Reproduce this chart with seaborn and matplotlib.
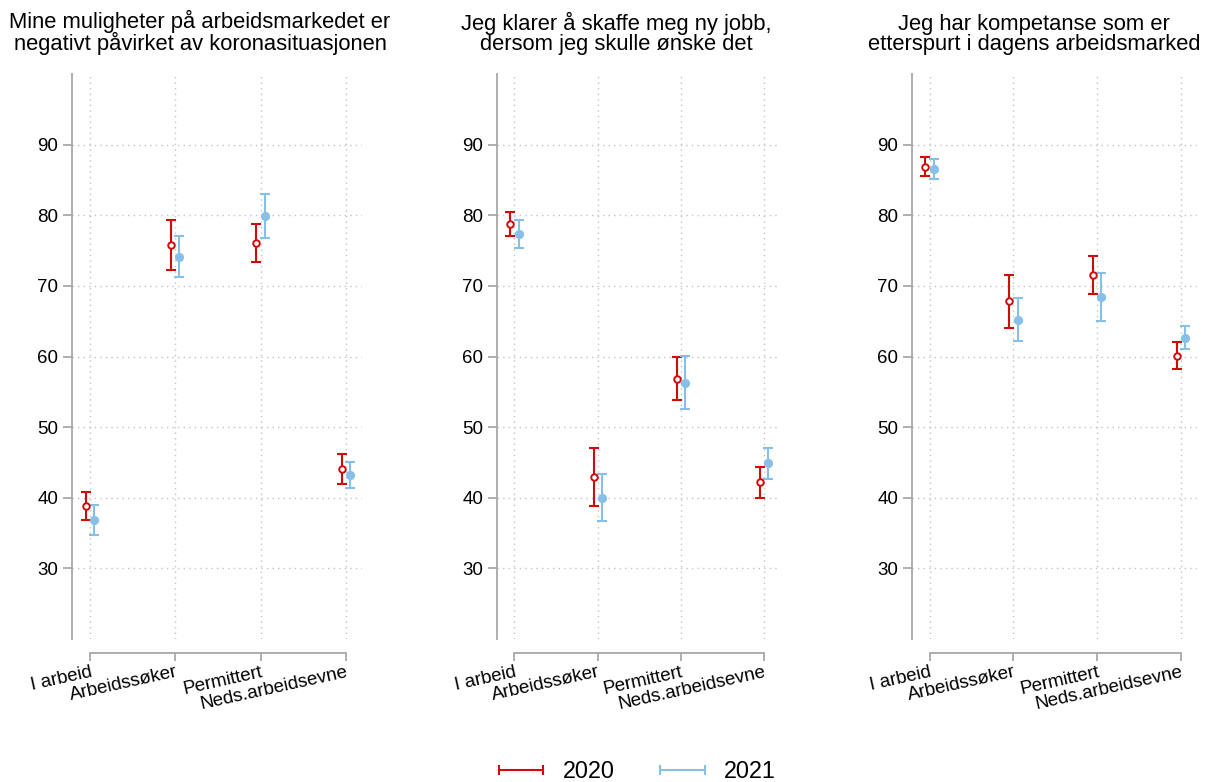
import matplotlib
matplotlib.use("Agg")
import matplotlib.pyplot as plt
from matplotlib.lines import Line2D
import seaborn as sns
import numpy as np

categories = ["I arbeid", "Arbeidssøker", "Permittert", "Neds.arbeidsevne"]
titles = [
    "Mine muligheter på arbeidsmarkedet er\nnegativt påvirket av koronasituasjonen",
    "Jeg klarer å skaffe meg ny jobb,\ndersom jeg skulle ønske det",
    "Jeg har kompetanse som er\netterspurt i dagens arbeidsmarked",
]
years = ["2020", "2021"]

# panel 1
p1_2020_mean = [38.9, 75.85, 76.1, 44.05]
p1_2020_lo = [36.9, 72.3, 73.4, 41.9]
p1_2020_hi = [40.8, 79.3, 78.7, 46.2]
p1_2021_mean = [36.8, 74.15, 79.9, 43.2]
p1_2021_lo = [34.7, 71.2, 76.8, 41.4]
p1_2021_hi = [38.96, 77.1, 83.0, 45.1]
# panel 2
p2_2020_mean = [78.8, 43.0, 56.8, 42.2]
p2_2020_lo = [77.1, 38.9, 53.8, 40.0]
p2_2020_hi = [80.5, 47.05, 59.9, 44.4]
p2_2021_mean = [77.35, 40.0, 56.3, 44.9]
p2_2021_lo = [75.4, 36.65, 52.5, 42.7]
p2_2021_hi = [79.3, 43.3, 60.1, 47.0]
# panel 3
p3_2020_mean = [86.8, 67.8, 71.5, 60.1]
p3_2020_lo = [85.5, 64.05, 68.8, 58.3]
p3_2020_hi = [88.2, 71.6, 74.2, 62.0]
p3_2021_mean = [86.55, 65.2, 68.45, 62.65]
p3_2021_lo = [85.2, 62.2, 65.0, 61.0]
p3_2021_hi = [87.9, 68.3, 71.8, 64.3]

yticks = [30, 40, 50, 60, 70, 80, 90]

panels = [
    ((p1_2020_mean, p1_2020_lo, p1_2020_hi), (p1_2021_mean, p1_2021_lo, p1_2021_hi)),
    ((p2_2020_mean, p2_2020_lo, p2_2020_hi), (p2_2021_mean, p2_2021_lo, p2_2021_hi)),
    ((p3_2020_mean, p3_2020_lo, p3_2020_hi), (p3_2021_mean, p3_2021_lo, p3_2021_hi)),
]

sns.set_style("white")
plt.rcParams['font.family'] = ['Liberation Sans', 'DejaVu Sans']
plt.rcParams['text.color'] = 'black'
plt.rcParams['xtick.labelcolor'] = 'black'
plt.rcParams['ytick.labelcolor'] = 'black'

RED = "#d10a0a"
BLUE = "#86c0e8"
SPINE = "#a8a8a8"
GRID = "#c4c4c4"

W, H = 1206, 782
fig = plt.figure(figsize=(W / 100, H / 100), dpi=100)

lefts = [72, 497, 912]
widths = [290, 283, 285]
top_px, bot_px = 74, 639
title_x = [200, 616, 1034]
ROT = 12.5

for i, (pan, left, width) in enumerate(zip(panels, lefts, widths)):
    ax = fig.add_axes([left / W, 1 - bot_px / H, width / W, (bot_px - top_px) / H])
    x = np.arange(len(categories))
    offsets = [-0.05, 0.05]
    styles = [
        dict(color=RED, face="white", size=22, lw=1.4),
        dict(color=BLUE, face=BLUE, size=44, lw=0),
    ]
    for (mean, lo, hi), off, st in zip(pan, offsets, styles):
        mean = np.array(mean); lo = np.array(lo); hi = np.array(hi)
        xx = x + off
        ax.errorbar(xx, mean, yerr=[mean - lo, hi - mean], fmt="none",
                    ecolor=st["color"], elinewidth=1.5, capsize=3.6, capthick=1.5, zorder=3)
        sns.scatterplot(x=xx, y=mean, ax=ax, marker="o", s=st["size"],
                        facecolor=st["face"], edgecolor=st["color"], linewidth=st["lw"],
                        zorder=4, legend=False)
    ax.set_xlabel(""); ax.set_ylabel("")
    ax.set_xlim(-0.21, 3.19)
    ax.set_ylim(20, 100)
    ax.grid(True, color=GRID, linestyle=(0, (1, 3)), linewidth=1.0)
    ax.set_axisbelow(True)
    for s in ["top", "right"]:
        ax.spines[s].set_visible(False)
    ax.spines["left"].set_color(SPINE)
    ax.spines["left"].set_linewidth(1.3)
    ax.spines["bottom"].set_color(SPINE)
    ax.spines["bottom"].set_linewidth(1.3)
    ax.spines["bottom"].set_position(("outward", 10))
    ax.spines["bottom"].set_bounds(0, 3)
    ax.tick_params(axis="y", direction="out", length=6.5, width=1.3, color=SPINE, pad=3.5,
                   left=True, labelsize=13.5, labelcolor="black")
    ax.tick_params(axis="x", direction="out", length=5.8, width=1.3, color=SPINE, pad=2,
                   bottom=True, labelsize=13.5, labelcolor="black", labelrotation=ROT)
    ax.set_yticks(yticks)
    ax.set_yticklabels([str(t) for t in yticks])
    ax.set_xticks(x)
    ax.set_xticklabels(categories)
    for lab in ax.get_xticklabels():
        lab.set_ha("right")
        lab.set_rotation_mode("anchor")
        lab.set_rotation(ROT)
        lab.set_fontsize(13.5)
    fx = (title_x[i] - left) / width
    ax.text(fx, 1 + (top_px - 50) / (bot_px - top_px), titles[i], transform=ax.transAxes,
            ha="center", va="baseline", fontsize=15.8, linespacing=0.95, multialignment="center")

handles = [
    Line2D([0], [0], color=RED, lw=1.5, marker="|", markersize=7, markeredgewidth=1.5),
    Line2D([0], [0], color=BLUE, lw=1.5, marker="|", markersize=7, markeredgewidth=1.5),
]
fig.legend(handles, years, loc="center", bbox_to_anchor=(0.5 + 31 / W, 1 - 772 / H), ncol=2,
           frameon=False, fontsize=16.8, numpoints=2, handlelength=2.5, handletextpad=0.54,
           columnspacing=1.65)

fig.savefig("out.png", dpi=100)
